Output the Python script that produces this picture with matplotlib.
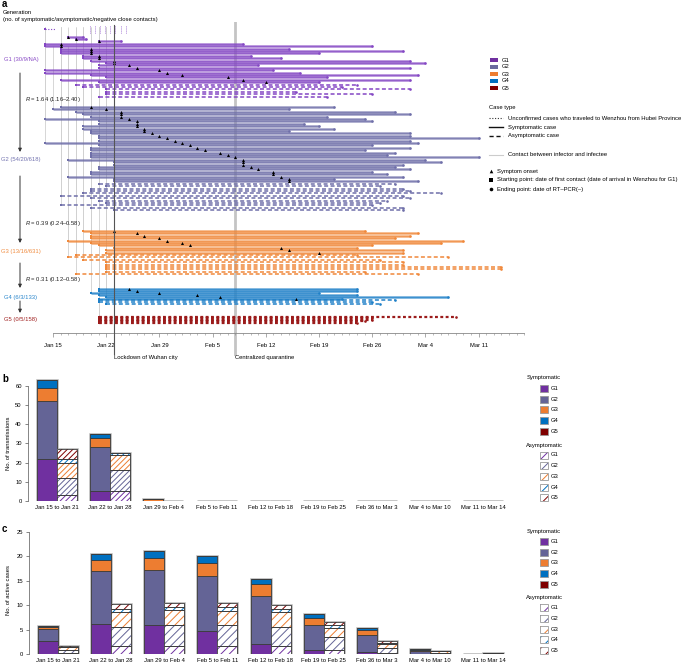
import numpy as np
import matplotlib
matplotlib.use("Agg")
import matplotlib.pyplot as plt
from matplotlib.patches import Rectangle

plt.rcParams['font.family'] = ['Liberation Sans', 'DejaVu Sans']
plt.rcParams['mathtext.fontset'] = 'custom'
plt.rcParams['mathtext.rm'] = 'Liberation Sans'
plt.rcParams['mathtext.it'] = 'Liberation Sans:italic'
plt.rcParams['hatch.linewidth'] = 0.7

# ---------------- Panel a data (days after Jan 15) ----------------
gen_names = ["G1", "G2", "G3", "G4", "G5"]
gen_labels = ["G1 (30/9/NA)", "G2 (54/20/618)", "G3 (13/16/631)", "G4 (6/3/133)", "G5 (0/5/158)"]
r_labels = ["1.64 (1.16–2.40)", "0.39 (0.24–0.58)", "0.31 (0.12–0.58)"]

unconf_start = [-1]
unconf_end = [0.3]
unconf_tick_days = [4.9, 5.5, 6.2, 6.8, 7.5, 8.2, 8.9, 9.6]

g1_sym_start = [2, 3, 6, -1, -1, 1, 1, 1, 4, 4, 5, 7, 6, 6, -1, -1, 5, 7, 1, 6]
g1_sym_onset = [2, 3, 6, 1, 1, 5, 5, 5, 6, 6, 8, 8, 10, 11, 14, 15, 17, 23, 25, 28]
g1_sym_end = [4, 4.3, 9, 25, 42, 31, 46, 35, 26, 30, 47, 49, 27, 47, 29, 32.5, 48, 36, 47, 35]
g1_asym_start = [3, 4, 7, 7, 7, 6]
g1_asym_end = [40, 38, 47, 32, 42, 36]

g2_sym_start = [1, 0, 3, 4, 5, -1, 6, 6, 4, 4, 5, 5, 6, 6, 6, -1, 6, 5, 5, 5, 5, 5, 2, 8, 8, 6, 6, 5, 5, 2, 8, 8]
g2_sym_onset = [5, 7, 9, 9, 9, 10, 11, 11, 11, 12, 12, 13, 14, 15, 16, 17, 18, 19, 20, 22, 23, 24, 25, 25, 25, 26, 27, 29, 29, 30, 31, 31]
g2_sym_end = [37, 31, 45, 47, 36, 41, 42, 33, 35, 37, 31, 47, 47, 56, 47, 48, 42, 47, 41, 45, 44, 56, 49, 51, 46, 45, 47, 42, 44, 46, 37, 48]
g2_asym_start = [6, 7, 5, 5, 4, 1, 5, 6, 7, 1, 5, 8]
g2_asym_end = [45, 43, 46, 47, 51, 46, 47, 44, 43, 42, 46, 46]

g3_sym_start = [4, 5, 5, 5, 2, 5, 6, 8, 7, 7]
g3_sym_onset = [8, 11, 12, 14, 15, 17, 18, 30, 31, 35]
g3_sym_end = [41, 48, 47, 45, 54, 51, 42, 40, 46, 46]
g3_asym_start = [3, 2, 4, 7, 7, 7, 7, 7, 3]
g3_asym_end = [40, 52, 43, 46, 46, 59, 59, 41, 48]

g4_sym_start = [6, 6, 5, 6, 7, 6]
g4_sym_onset = [10, 11, 14, 19, 22, 32]
g4_sym_end = [40, 40, 35, 40, 52, 38]
g4_asym_start = [6, 6, 7]
g4_asym_end = [45, 42, 43]

g5_sym_start, g5_sym_onset, g5_sym_end = [], [], []
g5_asym_start = [6, 6, 6, 6, 6]
g5_asym_end = [53, 42, 42, 41, 40]

date_tick_days = [0, 7, 14, 21, 28, 35, 42, 49, 56]
date_tick_labels = ["Jan 15", "Jan 22", "Jan 29", "Feb 5", "Feb 12", "Feb 19", "Feb 26", "Mar 4", "Mar 11"]
lockdown_day = 8
quarantine_day = 24

# ---------------- Panels b and c data ----------------
periods = ["Jan 15 to Jan 21", "Jan 22 to Jan 28", "Jan 29 to Feb 4", "Feb 5 to Feb 11",
           "Feb 12 to Feb 18", "Feb 19 to Feb 25", "Feb 36 to Mar 3", "Mar 4 to Mar 10",
           "Mar 11 to Mar 14"]

b_sym_g1 = [22, 5, 0, 0, 0, 0, 0, 0, 0]
b_sym_g2 = [30, 23, 0, 0, 0, 0, 0, 0, 0]
b_sym_g3 = [7, 5, 1, 0, 0, 0, 0, 0, 0]
b_sym_g4 = [4, 2, 0, 0, 0, 0, 0, 0, 0]
b_sym_g5 = [0, 0, 0, 0, 0, 0, 0, 0, 0]
b_asym_g1 = [3, 5, 0, 0, 0, 0, 0, 0, 0]
b_asym_g2 = [9, 11, 0, 0, 0, 0, 0, 0, 0]
b_asym_g3 = [8, 8, 0, 0, 0, 0, 0, 0, 0]
b_asym_g4 = [2, 1, 0, 0, 0, 0, 0, 0, 0]
b_asym_g5 = [5, 0, 0, 0, 0, 0, 0, 0, 0]

c_sym_g1 = [2.8, 6.1, 5.9, 4.7, 2.2, 0.9, 0.5, 0.0, 0.0]
c_sym_g2 = [2.3, 10.9, 11.3, 11.3, 9.7, 5.0, 3.5, 0.6, 0.1]
c_sym_g3 = [0.4, 2.2, 2.5, 2.7, 2.4, 1.6, 1.0, 0.3, 0.0]
c_sym_g4 = [0.3, 1.4, 1.5, 1.4, 1.1, 0.7, 0.3, 0.1, 0.0]
c_sym_g5 = [0, 0, 0, 0, 0, 0, 0, 0, 0]
c_asym_g1 = [0.3, 1.7, 1.7, 1.7, 1.7, 0.9, 0.3, 0.0, 0.0]
c_asym_g2 = [0.6, 3.9, 4.2, 4.2, 3.9, 2.6, 1.0, 0.3, 0.2]
c_asym_g3 = [0.5, 3.0, 3.1, 3.0, 3.0, 1.9, 0.9, 0.3, 0.1]
c_asym_g4 = [0.1, 0.6, 0.6, 0.7, 0.6, 0.6, 0.2, 0.0, 0.0]
c_asym_g5 = [0.2, 1.0, 0.9, 0.9, 0.9, 0.6, 0.3, 0.0, 0.0]

# ---------------- styles ----------------
line_colors = ['#8447c4', '#6f6fa9', '#f0883a', '#1f80c8', '#9b1b1b']
label_colors = ['#8a4cc6', '#7474b0', '#f08c40', '#2a86cc', '#a02020']
bar_colors = ['#7030a0', '#646496', '#ed7d31', '#0070c0', '#7f0000']
FS = 4.2
W, H = 685, 664

fig = plt.figure(figsize=(W / 100, H / 100), dpi=100)

def fx(px):
    return px / W

def fy(py):
    return 1 - py / H

# ---------------- Panel a ----------------
ax = fig.add_axes([fx(37.8), fy(333), fx(528 - 37.8), (333 - 22) / H])
ax.set_xlim(-2, 62.5)
ax.set_ylim(333, 22)
for s in ['left', 'top', 'right']:
    ax.spines[s].set_visible(False)
ax.spines['bottom'].set_bounds(0, 62)
ax.spines['bottom'].set_color('#888888')
ax.spines['bottom'].set_linewidth(0.6)
ax.set_yticks([])
ax.set_xticks(date_tick_days, date_tick_labels)
ax.set_xticks(np.arange(0, 63, 1), minor=True)
ax.tick_params(axis='x', which='major', length=3, width=0.5, color='#888888', labelsize=FS, pad=4)
ax.tick_params(axis='x', which='minor', length=1.5, width=0.4, color='#888888')

gens = [
    (g1_sym_start, g1_sym_onset, g1_sym_end, g1_asym_start, g1_asym_end),
    (g2_sym_start, g2_sym_onset, g2_sym_end, g2_asym_start, g2_asym_end),
    (g3_sym_start, g3_sym_onset, g3_sym_end, g3_asym_start, g3_asym_end),
    (g4_sym_start, g4_sym_onset, g4_sym_end, g4_asym_start, g4_asym_end),
    (g5_sym_start, g5_sym_onset, g5_sym_end, g5_asym_start, g5_asym_end),
]
gen_top = [36.5, 107, 231, 289, 316.5]
gen_step = [2.4, 2.4, 2.4, 1.9, 1.5]
unconf_y0 = 29

rows = []
for g, (ss, so, se, as_, ae) in enumerate(gens):
    starts = list(ss) + list(as_)
    ys = [gen_top[g] + i * gen_step[g] for i in range(len(starts))]
    rows.append(list(zip(ys, starts)))

# contacts between infector and infectee
for g in range(5):
    for i, (y, st) in enumerate(rows[g]):
        if g == 0:
            y0 = unconf_y0 - 2
        else:
            cand = [r for r in rows[g - 1] if r[1] <= st] or rows[g - 1]
            y0 = cand[i % len(cand)][0]
        ax.plot([st, st], [y0, y], color='#d0d0d0', lw=0.6, zorder=1, solid_capstyle='butt')

ax.axvline(quarantine_day, color='#c4c4c4', lw=2.0, zorder=1.5)
ax.plot([quarantine_day, quarantine_day], [333, 354], color='#c4c4c4', lw=2.0, clip_on=False, zorder=1.5)

for k, (s, e) in enumerate(zip(unconf_start, unconf_end)):
    y = unconf_y0 + 3 * k
    ax.plot([s, e], [y, y], color=line_colors[0], lw=0.8, ls=(0, (1, 1.5)), zorder=2)
    ax.plot([s], [y], marker='s', ms=1.8, color=line_colors[0], mew=0, zorder=3)
for d in unconf_tick_days:
    ax.plot([d, d], [26, 33], color=line_colors[0], lw=0.6, ls=(0, (1, 1.5)), zorder=2)

for g, (ss, so, se, as_, ae) in enumerate(gens):
    c = line_colors[g]
    ys = [r[0] for r in rows[g]]
    ns = len(ss)
    for i in range(ns):
        y = ys[i]
        ax.plot([ss[i], se[i]], [y, y], color=c, lw=2.1, alpha=0.55, solid_capstyle='butt', zorder=2)
        ax.plot([ss[i], se[i]], [y, y], color=c, lw=0.5, zorder=2.1)
        ax.plot([ss[i]], [y], marker='s', ms=1.9, color=c, mew=0, zorder=3)
        ax.plot([se[i]], [y], marker='o', ms=1.9, color=c, mew=0, zorder=3)
        ax.plot([so[i]], [y], marker='^', ms=2.2, color='black', mew=0, zorder=4)
    for j in range(len(as_)):
        y = ys[ns + j]
        lw = 1.6 if g == 4 else 1.1
        dash = (0, (1.3, 1.1)) if g == 4 else (0, (2.6, 1.6))
        ax.plot([as_[j], ae[j]], [y, y], color=c, lw=lw, ls=dash, zorder=2)
        ax.plot([as_[j]], [y], marker='s', ms=1.9, color=c, mew=0, zorder=3)
        ax.plot([ae[j]], [y], marker='o', ms=1.9, color=c, mew=0, zorder=3)

ax.plot([lockdown_day, lockdown_day], [25, 354], color='#555555', lw=0.8, clip_on=False, zorder=5)

# ---------------- bar panels ----------------
def draw_bars(axb, sym, asym, hatch):
    n = len(periods)
    x = np.arange(n)
    w = 0.375
    for side, data, hatched in [(-1, sym, False), (1, asym, True)]:
        xs = x + side * w / 2
        arr = np.array(data, float)
        total = arr.sum(axis=0)
        axb.bar(xs, total, w, facecolor='none', edgecolor='#b4b4b4', linewidth=1.8, zorder=1)
        bottom = np.zeros(n)
        for g in range(arr.shape[0]):
            vals = arr[g]
            if hatched:
                axb.bar(xs, vals, w, bottom=bottom, color='white', edgecolor=bar_colors[g],
                        hatch=hatch, linewidth=0, zorder=2)
                axb.bar(xs, vals, w, bottom=bottom, fill=False, edgecolor='#3a3a3a',
                        linewidth=0.6, zorder=3)
            else:
                axb.bar(xs, vals, w, bottom=bottom, color=bar_colors[g], edgecolor='#3a3a3a',
                        linewidth=0.6, zorder=2)
            bottom += vals
    axb.set_xlim(-0.54, 8.5)
    axb.set_xticks(x, periods)
    for s in ['top', 'right', 'bottom']:
        axb.spines[s].set_visible(False)
    axb.spines['left'].set_color('#555555')
    axb.spines['left'].set_linewidth(0.5)
    axb.tick_params(axis='x', length=0, labelsize=FS, pad=3)
    axb.tick_params(axis='y', length=2.5, width=0.5, color='#555555', labelsize=FS, pad=2)

axb = fig.add_axes([fx(28), fy(501), fx(510 - 28), (501 - 376.4) / H])
draw_bars(axb, [b_sym_g1, b_sym_g2, b_sym_g3, b_sym_g4, b_sym_g5],
          [b_asym_g1, b_asym_g2, b_asym_g3, b_asym_g4, b_asym_g5], '//////')
axb.set_ylim(0, 65)
axb.set_yticks(np.arange(0, 61, 10))
axb.spines['left'].set_bounds(0, 60)

axc = fig.add_axes([fx(29), fy(654.3), fx(510 - 29), (654.3 - 532) / H])
draw_bars(axc, [c_sym_g1, c_sym_g2, c_sym_g3, c_sym_g4, c_sym_g5],
          [c_asym_g1, c_asym_g2, c_asym_g3, c_asym_g4, c_asym_g5], '////')
axc.set_ylim(0, 25)
axc.set_yticks(np.arange(0, 26, 5))

# ---------------- overlay: texts, legends ----------------
ov = fig.add_axes([0, 0, 1, 1])
ov.set_xlim(0, W)
ov.set_ylim(H, 0)
ov.axis('off')

ov.text(2, 4, 'a', fontsize=7, fontweight='bold', va='center')
ov.text(2, 379, 'b', fontsize=7, fontweight='bold', va='center')
ov.text(2, 529, 'c', fontsize=7, fontweight='bold', va='center')
ov.text(3, 12, 'Generation', fontsize=FS, va='center')
ov.text(3, 20, '(no. of symptomatic/asymptomatic/negative close contacts)', fontsize=FS, va='center')

gen_label_y = [60, 160, 252, 297, 320]
for g in range(5):
    ov.text(21, gen_label_y[g], gen_labels[g], color=label_colors[g], fontsize=FS,
            ha='center', va='center')
arrows = [(73, 152), (176, 243), (263, 288), (301, 313)]
for y0, y1 in arrows:
    ov.annotate('', xy=(20, y1), xytext=(20, y0),
                arrowprops=dict(arrowstyle='-|>', color='#333333', lw=0.7, mutation_scale=5,
                                shrinkA=0, shrinkB=0))
r_y = [100, 223, 280]
for k in range(3):
    ov.text(25, r_y[k], '$R$ = ' + r_labels[k], fontsize=FS, va='center', color='#222222')

ov.text(lockdown_day * 7.6 + 53, 358, 'Lockdown of Wuhan city', fontsize=FS, va='center')
ov.text(quarantine_day * 7.6 + 53, 358, 'Centralized quarantine', fontsize=FS, va='center')

leg_gen_y = [60, 67, 74, 81, 88]
legend_patch_colors = ['#7030a0', '#6a6a9e', '#ed7d31', '#0070c0', '#800000']
for g in range(5):
    ov.add_patch(Rectangle((490, leg_gen_y[g] - 2), 8, 4, color=legend_patch_colors[g], lw=0))
    ov.text(502, leg_gen_y[g], gen_names[g], fontsize=FS, va='center')
ov.text(489, 108, 'Case type', fontsize=FS, va='center')
case_items = [
    (118, dict(color='#333333', lw=0.8, ls=(0, (1, 1.5))), 'Unconfirmed cases who traveled to Wenzhou from Hubei Province'),
    (127, dict(color='#111111', lw=1.0, ls='-'), 'Symptomatic case'),
    (136, dict(color='#111111', lw=1.0, ls=(0, (3, 2))), 'Asymptomatic case'),
    (155, dict(color='#cccccc', lw=0.8, ls='-'), 'Contact between infector and infectee'),
]
for y, st, lab in case_items:
    ov.plot([489, 503], [y, y], **st)
    ov.text(508, y, lab, fontsize=FS, va='center')
mark_items = [(171, '^', 'Symptom onset'),
              (180, 's', 'Starting point: date of first contact (date of arrival in Wenzhou for G1)'),
              (189, 'o', 'Ending point: date of RT–PCR(–)')]
for y, m, lab in mark_items:
    ov.plot([491], [y], marker=m, ms=2.6, color='black', mew=0)
    ov.text(497, y, lab, fontsize=FS, va='center')

def bar_legend(y_sym_title, y_asym_title):
    ov.text(544, y_sym_title, 'Symptomatic', fontsize=FS, ha='center', va='center')
    ov.text(544, y_asym_title, 'Asymptomatic', fontsize=FS, ha='center', va='center')
    for g in range(5):
        y = y_sym_title + 10.5 + 10.7 * g
        ov.add_patch(Rectangle((540, y - 3.5), 8, 7, facecolor=bar_colors[g], edgecolor='#999999', lw=0.6))
        ov.text(551, y, gen_names[g], fontsize=FS, va='center')
        y2 = y_asym_title + 10 + 10.7 * g
        ov.add_patch(Rectangle((540, y2 - 3.5), 8, 7, facecolor='white', edgecolor=bar_colors[g],
                               hatch='///', lw=0))
        ov.add_patch(Rectangle((540, y2 - 3.5), 8, 7, fill=False, edgecolor='#999999', lw=0.6))
        ov.text(551, y2, gen_names[g], fontsize=FS, va='center')

bar_legend(378, 445)
bar_legend(531, 597.7)

ov.text(9, 443, 'No. of transmissions', fontsize=FS, rotation=90, ha='center', va='center')
ov.text(9, 590, 'No. of active cases', fontsize=FS, rotation=90, ha='center', va='center')

fig.savefig('out.png', dpi=100)
